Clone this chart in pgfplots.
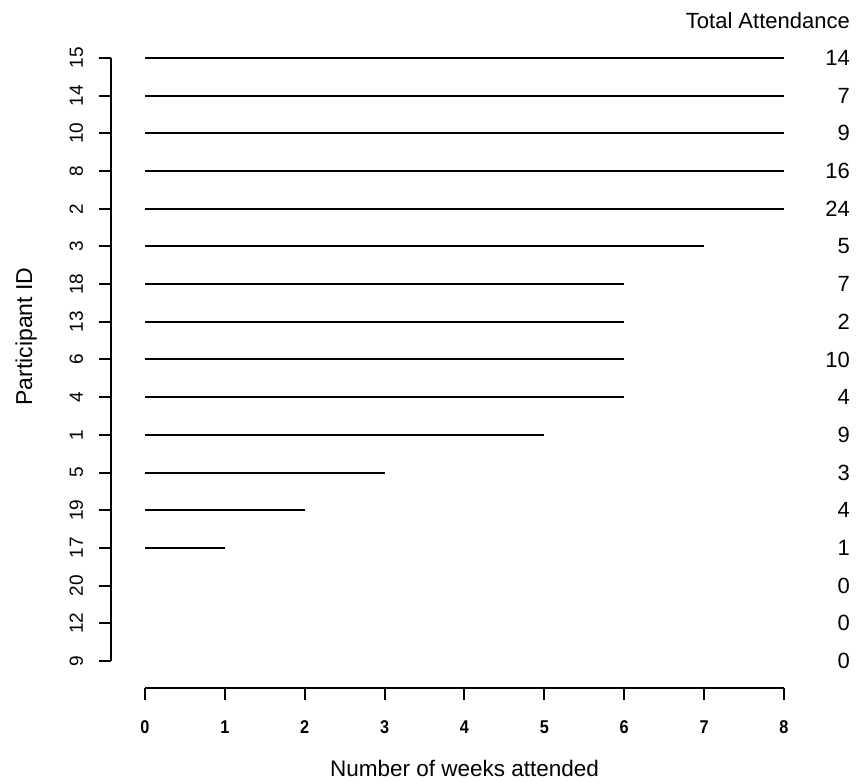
\documentclass[border=0pt]{standalone}
\usepackage{pgfplots}
\pgfplotsset{compat=1.18}
\usepackage{fontspec}
\setmainfont{Liberation Sans}
\newfontfamily\narrowfont[FakeStretch=0.88]{Liberation Sans}
\newcommand{\tickfont}{\fontsize{19}{21}\selectfont}
\newcommand{\xtickfont}{\narrowfont\bfseries\fontsize{18.5}{21}\selectfont}
\begin{document}
\begin{tikzpicture}
\useasboundingbox (0,0) rectangle (865pt,782pt);
\begin{axis}[
  at={(145pt,121pt)}, anchor=south west,
  scale only axis, width=639pt, height=603pt,
  xmin=0, xmax=8, ymin=1, ymax=17,
  clip=false,
  axis lines=left,
  axis line style={-, line width=2pt},
  axis x line shift=27pt,
  axis y line shift=34pt,
  xtick={0,1,2,3,4,5,6,7,8},
  xticklabels={0,1,2,3,4,5,6,7,8},
  ytick={1,2,3,4,5,6,7,8,9,10,11,12,13,14,15,16,17},
  yticklabels={9,12,20,17,19,5,1,4,6,13,18,3,2,8,10,14,15},
  tick align=outside,
  major tick length=12pt,
  every tick/.style={black, line width=2pt},
  xticklabel shift=20pt,
  yticklabel shift=16pt,
  xticklabel style={font=\xtickfont, text height=13.5pt, text depth=0pt, inner sep=0pt},
  yticklabel style={font=\tickfont, rotate=90, anchor=south, inner sep=0pt, text height=13.5pt, text depth=0pt},
  xlabel={Number of weeks attended},
  ylabel={Participant ID},
  every axis x label/.style={at={(axis description cs:0.5,-0.178)}, anchor=center, font=\fontsize{22.5}{24}\selectfont},
  every axis y label/.style={at={(axis description cs:-0.186,0.538)}, anchor=center, rotate=90, font=\fontsize{23}{24}\selectfont},
]
\addplot[xcomb, black, line width=2pt] coordinates {
(0,1) (0,2) (0,3) (1,4) (2,5) (3,6) (5,7) (6,8) (6,9) (6,10) (6,11) (7,12) (8,13) (8,14) (8,15) (8,16) (8,17)
};
\addplot[only marks, mark=none, nodes near coords, point meta=explicit symbolic,
  nodes near coords style={anchor=east, xshift=66pt, font=\fontsize{22}{24}\selectfont, inner sep=0pt}]
coordinates {
(8,1) [0] (8,2) [0] (8,3) [0] (8,4) [1] (8,5) [4] (8,6) [3] (8,7) [9] (8,8) [4] (8,9) [10]
(8,10) [2] (8,11) [7] (8,12) [5] (8,13) [24] (8,14) [16] (8,15) [9] (8,16) [7] (8,17) [14]
};
\node[anchor=east, xshift=66pt, inner sep=0pt, font=\fontsize{22}{24}\selectfont] at (axis cs:8,18) {Total Attendance};
\end{axis}
\end{tikzpicture}
\end{document}
